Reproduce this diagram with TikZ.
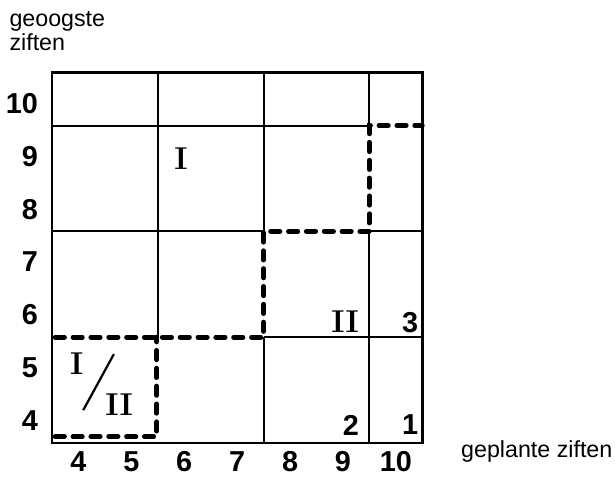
\documentclass[tikz,border=0pt]{standalone}
\usepackage{fontspec}
\setsansfont{Liberation Sans}
\tikzset{
  cell/.style={line width=1pt},
  frame/.style={line width=1.4pt},
  stair/.style={line width=2.6pt, dash pattern=on 5pt off 4.6pt, line cap=round},
  num/.style={font=\sffamily\bfseries\fontsize{15.5}{15.5}\selectfont, inner sep=0pt},
  roman/.style={font=\bfseries\fontsize{17}{17}\selectfont, inner sep=0pt},
  axlabel/.style={font=\sffamily\fontsize{12.5}{12.5}\selectfont, inner sep=0pt}
}
\begin{document}
\begin{tikzpicture}
            \useasboundingbox (2.517,2.857) rectangle (14.143,11.874);
            % frame and cells
            \draw[frame] (3.5,3.5) rectangle (10.5,10.5);
            \draw[cell] (3.5,9.5) -- (9.5,9.5);
            \draw[cell] (3.5,7.5) -- (7.5,7.5);
            \draw[cell] (9.5,7.5) -- (10.5,7.5);
            \draw[cell] (7.5,5.5) -- (10.5,5.5);
            \draw[cell] (5.5,10.5) -- (5.5,5.5);
            \draw[cell] (7.5,10.5) -- (7.5,7.5);
            \draw[cell] (7.5,5.5) -- (7.5,3.5);
            \draw[cell] (9.5,10.5) -- (9.5,9.5);
            \draw[cell] (9.5,7.5) -- (9.5,3.5);
            % staircase
            \draw[stair] (3.56,5.5) -- (7.5,5.5) -- (7.5,7.5) -- (9.5,7.5) -- (9.5,9.5) -- (10.5,9.5);
            \draw[stair] (3.56,3.62) -- (5.48,3.62) -- (5.48,5.5);
            % axes
            \foreach \n in {4,...,10} {
              \node[num, anchor=east] (y\n) at (3.24,\n-0.08) {\n};
              \node[num] (x\n) at (\n,3.14) {\n};
            }
            \node[axlabel, anchor=base west] (geo) at (2.69,11.38) {geoogste};
            \node[axlabel, anchor=base west] (zif) at (2.69,10.91) {ziften};
            \node[axlabel, anchor=base east] (gep) at (14.1,3.22) {geplante ziften};
            % cell labels
            \node[roman] (one) at (5.94,8.88) {I};
            \node[roman] (two) at (9.04,5.79) {II};
            \node[num] (c3) at (10.27,5.77) {3};
            \node[num] (c2) at (9.15,3.84) {2};
            \node[num] (c1) at (10.27,3.84) {1};
            \node[roman] (mixI) at (3.97,4.99) {I};
            \node[roman] (mixII) at (4.77,4.22) {II};
            \draw[line width=1.2pt] (4.09,4.12) -- (4.67,5.18);
        \end{tikzpicture}
\end{document}
